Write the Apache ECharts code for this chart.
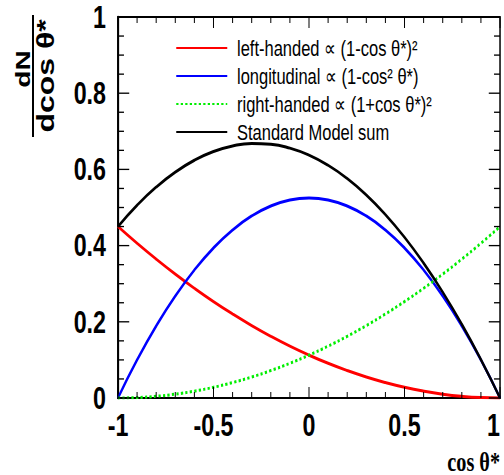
<!DOCTYPE html>
<html>
<head>
<meta charset="utf-8">
<script src="https://cdn.jsdelivr.net/npm/echarts@6/dist/echarts.min.js"></script>
<style>
  html, body { margin: 0; padding: 0; background: #fff; overflow: hidden; }
  #frame { width: 504px; height: 475px; overflow: hidden; position: relative; }
  /* the plot is laid out 672px wide and drawn at 3/4 width, giving tall narrow lettering */
  #chart { width: 672px; height: 475px; transform: scaleX(0.75); transform-origin: 0 0; }
</style>
</head>
<body>
<div id="frame"><div id="chart"></div></div>
<script>
// cos(theta*) sample points
const cosTheta = [-1, -0.9, -0.8, -0.7, -0.6, -0.5, -0.4, -0.3, -0.2, -0.1, 0,
                  0.1, 0.2, 0.3, 0.4, 0.5, 0.6, 0.7, 0.8, 0.9, 1];

// helicity components, dN/dcos(theta*)
const leftHanded = [0.45, 0.4061, 0.3645, 0.3251, 0.288, 0.2531, 0.2205, 0.1901, 0.162, 0.1361, 0.1125,
                    0.0911, 0.072, 0.0551, 0.0405, 0.0281, 0.018, 0.0101, 0.0045, 0.0011, 0];
const longitudinal = [0, 0.0998, 0.189, 0.2678, 0.336, 0.3938, 0.441, 0.4778, 0.504, 0.5198, 0.525,
                      0.5198, 0.504, 0.4778, 0.441, 0.3938, 0.336, 0.2678, 0.189, 0.0998, 0];
const rightHanded = [0, 0.0011, 0.0045, 0.0101, 0.018, 0.0281, 0.0405, 0.0551, 0.072, 0.0911, 0.1125,
                     0.1361, 0.162, 0.1901, 0.2205, 0.2531, 0.288, 0.3251, 0.3645, 0.4061, 0.45];
const smSum = [0.45, 0.5059, 0.5535, 0.5929, 0.624, 0.6469, 0.6615, 0.6679, 0.666, 0.6559, 0.6375,
               0.6109, 0.576, 0.5329, 0.4815, 0.4219, 0.354, 0.2779, 0.1935, 0.1009, 0];

// frame tick positions (major ticks every 0.5 on x, every 0.2 on y)
const xTickValues = [-1, -0.9, -0.8, -0.7, -0.6, -0.5, -0.4, -0.3, -0.2, -0.1, 0,
                     0.1, 0.2, 0.3, 0.4, 0.5, 0.6, 0.7, 0.8, 0.9, 1];
const yTickValues = [0, 0.05, 0.1, 0.15, 0.2, 0.25, 0.3, 0.35, 0.4, 0.45, 0.5,
                     0.55, 0.6, 0.65, 0.7, 0.75, 0.8, 0.85, 0.9, 0.95, 1];

const seriesNames = [
  'left-handed \u221D (1-cos \u03B8*)\u00B2',
  'longitudinal \u221D (1-cos\u00B2 \u03B8*)',
  'right-handed \u221D (1+cos \u03B8*)\u00B2',
  'Standard Model sum'
];

const pairs = ys => cosTheta.map((x, i) => [x, ys[i]]);
const isMultiple = (v, step) => Math.abs(v / step - Math.round(v / step)) < 1e-6 ? 1 : 0;

const chart = echarts.init(document.getElementById('chart'), null, { renderer: 'svg' });

const labelFont = {
  fontFamily: '"Liberation Sans", Arial, sans-serif',
  fontWeight: 'bold',
  fontSize: 31,
  color: '#000'
};

const xMain = {
  type: 'value', min: -1, max: 1, interval: 0.5,
  axisLine: { show: true, onZero: false, lineStyle: { color: '#000', width: 2 } },
  axisTick: { show: false }, minorTick: { show: false }, splitLine: { show: false },
  axisLabel: Object.assign({ show: true, margin: 12, alignMaxLabel: 'right' }, labelFont),
  name: 'cos \u03B8*', nameLocation: 'end', nameGap: 0,
  nameTextStyle: {
    fontFamily: '"Liberation Serif", "Times New Roman", serif', fontWeight: 'bold', fontSize: 27, color: '#000',
    align: 'right', verticalAlign: 'top', padding: [50, 0, 0, 0]
  }
};
const yMain = {
  type: 'value', min: 0, max: 1, interval: 0.2,
  axisLine: { show: true, onZero: false, lineStyle: { color: '#000', width: 2.67 } },
  axisTick: { show: false }, minorTick: { show: false }, splitLine: { show: false },
  axisLabel: Object.assign({ show: true, margin: 16 }, labelFont)
};

function curve(name, ys, color, type) {
  return {
    name: name, type: 'line', data: pairs(ys), smooth: true,
    symbol: 'none',
    lineStyle: { color: color, width: 3, type: type || 'solid' },
    itemStyle: { color: color }
  };
}

const tickStyle = { stroke: '#000', lineWidth: 1.33 };

// inward ticks on the bottom and top edges
const xTickSeries = {
  type: 'custom', silent: true, clip: false, z: 5,
  data: xTickValues.map(v => [v, isMultiple(v, 0.5)]),
  renderItem: function (params, api) {
    const v = api.value(0);
    const len = api.value(1) ? 11 : 6;
    const b = api.coord([v, 0]);
    const t = api.coord([v, 1]);
    return {
      type: 'group', children: [
        { type: 'line', shape: { x1: b[0], y1: b[1], x2: b[0], y2: b[1] - len }, style: tickStyle },
        { type: 'line', shape: { x1: t[0], y1: t[1], x2: t[0], y2: t[1] + len }, style: tickStyle }
      ]
    };
  }
};

// inward ticks on the left and right edges
const yTickSeries = {
  type: 'custom', silent: true, clip: false, z: 5,
  data: yTickValues.map(v => [v, isMultiple(v, 0.2)]),
  renderItem: function (params, api) {
    const v = api.value(0);
    const len = api.value(1) ? 15 : 8;
    const l = api.coord([-1, v]);
    const r = api.coord([1, v]);
    return {
      type: 'group', children: [
        { type: 'line', shape: { x1: l[0], y1: l[1], x2: l[0] + len, y2: l[1] }, style: tickStyle },
        { type: 'line', shape: { x1: r[0], y1: r[1], x2: r[0] - len, y2: r[1] }, style: tickStyle }
      ]
    };
  }
};

chart.setOption({
  animation: false,
  backgroundColor: '#fff',
  grid: {
    left: 157.3, right: 5.3, top: 17, bottom: 74, containLabel: false,
    show: true, borderColor: '#000', borderWidth: 2, backgroundColor: 'rgba(0,0,0,0)'
  },
  xAxis: xMain,
  yAxis: yMain,
  legend: {
    orient: 'vertical', left: 229, top: 32,
    itemWidth: 68, itemHeight: 14, itemGap: 6,
    itemStyle: { color: 'rgba(0,0,0,0)', borderColor: 'rgba(0,0,0,0)', borderWidth: 0 },
    textStyle: { fontFamily: '"Liberation Sans", Arial, sans-serif', fontSize: 22, color: '#000', lineHeight: 22, padding: [0, 0, 0, 8] },
    data: seriesNames
  },
  graphic: [
    {
      type: 'text', x: 30.7, y: 69, rotation: Math.PI / 2,
      style: { text: 'dN', font: 'bold 28px "Liberation Sans", Arial, sans-serif', fill: '#000', align: 'center', verticalAlign: 'middle' }
    },
    {
      type: 'line', shape: { x1: 44, y1: 15, x2: 44, y2: 137 },
      style: { stroke: '#000', lineWidth: 2.67 }
    },
    {
      type: 'text', x: 61.3, y: 76, rotation: Math.PI / 2,
      style: { text: 'dcos \u03B8*', font: 'bold 32px "Liberation Sans", Arial, sans-serif', fill: '#000', align: 'center', verticalAlign: 'middle' }
    }
  ],
  series: [
    curve(seriesNames[0], leftHanded, '#ff0000'),
    curve(seriesNames[1], longitudinal, '#0000ff'),
    curve(seriesNames[2], rightHanded, '#00ee00', [3, 3]),
    curve(seriesNames[3], smSum, '#000000'),
    xTickSeries,
    yTickSeries
  ]
});
</script>
</body>
</html>
